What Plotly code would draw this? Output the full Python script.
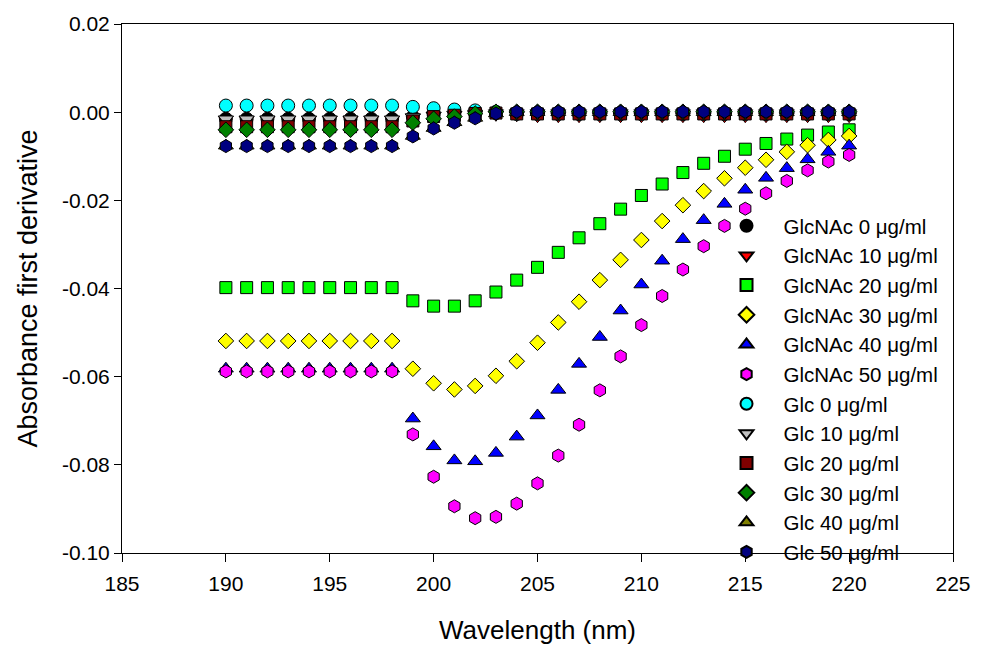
import plotly.graph_objects as go

# Wavelengths (nm)
wavelength = list(range(190, 221))

# First-derivative absorbance spectra
glcnac_0 = [-0.0015] * 9 + [-0.0010, -0.0006, -0.0004, -0.0003, -0.0002] + [-0.0002] * 17
glcnac_10 = [-0.0017] * 9 + [-0.0012, -0.0008, -0.0006, -0.0005, -0.0006, -0.0007] + [-0.0009] * 16
glcnac_20 = [-0.0398] * 9 + [-0.0428, -0.0440, -0.0440, -0.0428, -0.0408, -0.0381, -0.0352,
                             -0.0318, -0.0285, -0.0253, -0.0220, -0.0189, -0.0163, -0.0137,
                             -0.0116, -0.0100, -0.0084, -0.0071, -0.0061, -0.0052, -0.0045, -0.0040]
glcnac_30 = [-0.0519] * 9 + [-0.0582, -0.0615, -0.0629, -0.0621, -0.0598, -0.0565, -0.0523,
                             -0.0477, -0.0430, -0.0381, -0.0335, -0.0290, -0.0247, -0.0211,
                             -0.0179, -0.0150, -0.0126, -0.0108, -0.0090, -0.0075, -0.0063, -0.0054]
glcnac_40 = [-0.0582] * 9 + [-0.0695, -0.0758, -0.0790, -0.0792, -0.0773, -0.0736, -0.0688,
                             -0.0630, -0.0571, -0.0510, -0.0450, -0.0391, -0.0337, -0.0288,
                             -0.0245, -0.0208, -0.0176, -0.0149, -0.0127, -0.0107, -0.0090, -0.0076]
glcnac_50 = [-0.0588] * 9 + [-0.0731, -0.0827, -0.0894, -0.0921, -0.0918, -0.0888, -0.0842,
                             -0.0779, -0.0709, -0.0631, -0.0554, -0.0483, -0.0417, -0.0357,
                             -0.0304, -0.0258, -0.0219, -0.0184, -0.0156, -0.0132, -0.0112, -0.0097]
glc_0 = [0.0015] * 9 + [0.0012, 0.0009, 0.0006, 0.0004, 0.0001] + [-0.0004] * 17
glc_10 = [-0.0016] * 9 + [-0.0011, -0.0007, -0.0005, -0.0003, -0.0002] + [-0.0002] * 17
glc_20 = [-0.0033] * 9 + [-0.0020, -0.0010, -0.0007, -0.0003, -0.0002] + [-0.0004] * 17
glc_30 = [-0.0040] * 9 + [-0.0024, -0.0015, -0.0010, -0.0003, 0.0001] + [0.0001] * 17
glc_40 = [-0.0076] * 9 + [-0.0054, -0.0036, -0.0023, -0.0013, -0.0003] + [0.0000] * 17
glc_50 = [-0.0077] * 9 + [-0.0055, -0.0037, -0.0024, -0.0014, -0.0003] + [0.0001] * 17

series_names = [
    "GlcNAc 0 μg/ml", "GlcNAc 10 μg/ml", "GlcNAc 20 μg/ml", "GlcNAc 30 μg/ml",
    "GlcNAc 40 μg/ml", "GlcNAc 50 μg/ml", "Glc 0 μg/ml", "Glc 10 μg/ml",
    "Glc 20 μg/ml", "Glc 30 μg/ml", "Glc 40 μg/ml", "Glc 50 μg/ml",
]
series_values = [glcnac_0, glcnac_10, glcnac_20, glcnac_30, glcnac_40, glcnac_50,
                 glc_0, glc_10, glc_20, glc_30, glc_40, glc_50]

# Axis ticks (plain hyphen-minus labels)
x_ticks = [185, 190, 195, 200, 205, 210, 215, 220, 225]
y_ticks = [0.02, 0.00, -0.02, -0.04, -0.06, -0.08, -0.10]
y_tick_labels = ["0.02", "0.00", "-0.02", "-0.04", "-0.06", "-0.08", "-0.10"]

marker_symbols = ["circle", "triangle-down", "square", "diamond", "triangle-up", "hexagon",
                  "circle", "triangle-down", "square", "diamond", "triangle-up", "hexagon"]
marker_colors = ["#000000", "#FF0000", "#00FF00", "#FFFF00", "#0000FF", "#FF00FF",
                 "#00FFFF", "#C0C0C0", "#800000", "#008000", "#808000", "#000080"]
marker_sizes = {"circle": 13, "triangle-down": 13, "square": 12, "diamond": 12,
                "triangle-up": 13, "hexagon": 13}

FONT = "Arial, Liberation Sans, sans-serif"

fig = go.Figure()
for name, vals, sym, col in zip(series_names, series_values, marker_symbols, marker_colors):
    fig.add_trace(go.Scatter(
        x=wavelength, y=vals, mode="markers", name=name,
        marker=dict(symbol=sym, color=col, size=marker_sizes[sym],
                    line=dict(color="#000000", width=1)),
    ))

fig.update_layout(
    width=983, height=652,
    margin=dict(l=122, r=23, t=12, b=99),
    paper_bgcolor="white", plot_bgcolor="white",
    font=dict(family=FONT, color="black", size=21),
    showlegend=True,
    legend=dict(
        x=0.707, y=0.656, xanchor="left", yanchor="top",
        bgcolor="rgba(0,0,0,0)", borderwidth=0,
        font=dict(family=FONT, size=20.5, color="black"),
        tracegroupgap=0, itemsizing="constant", itemwidth=64,
    ),
    xaxis=dict(
        range=[185, 225], tickvals=x_ticks,
        showline=True, linecolor="black", linewidth=1, mirror=True,
        ticks="outside", ticklen=8, tickcolor="black", tickwidth=1,
        ticklabelstandoff=4,
        showgrid=False, zeroline=False,
        tickfont=dict(family=FONT, size=21),
        title=dict(text="Wavelength (nm)", font=dict(family=FONT, size=26), standoff=26),
    ),
    yaxis=dict(
        range=[-0.10, 0.02], tickvals=y_ticks, ticktext=y_tick_labels,
        showline=True, linecolor="black", linewidth=1, mirror=True,
        ticks="outside", ticklen=7, tickcolor="black", tickwidth=1,
        showgrid=False, zeroline=False,
        tickfont=dict(family=FONT, size=21),
        title=dict(text="Absorbance first derivative", font=dict(family=FONT, size=27), standoff=16),
    ),
)

fig.write_html("out.html")
